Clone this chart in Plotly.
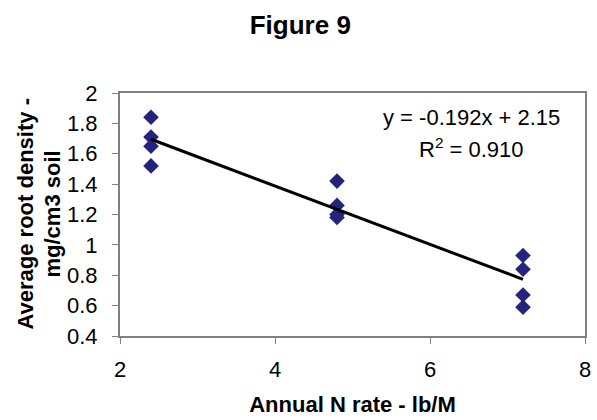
import numpy as np
import plotly.graph_objects as go

# Data
n_rate = [2.4, 2.4, 2.4, 2.4, 4.8, 4.8, 4.8, 4.8, 7.2, 7.2, 7.2, 7.2]
root_density = [1.84, 1.71, 1.65, 1.52, 1.42, 1.26, 1.20, 1.18, 0.93, 0.84, 0.67, 0.59]

x_ticks = [2, 4, 6, 8]
y_ticks = [0.4, 0.6, 0.8, 1.0, 1.2, 1.4, 1.6, 1.8, 2.0]
y_ticktext = ["0.4", "0.6", "0.8", "1", "1.2", "1.4", "1.6", "1.8", "2"]

eq_text = "y = -0.192x + 2.15"
r2_text = "R<sup>2</sup> = 0.910"
y_title_lines = ["Average root density -", "mg/cm3 soil"]

# Linear trendline fitted from the data
slope, intercept = np.polyfit(n_rate, root_density, 1)
fit_x = [min(n_rate), max(n_rate)]
fit_y = [slope * v + intercept for v in fit_x]

FONT = "Liberation Sans, Arial, sans-serif"
GRAY = "#808080"
FS = 22

fig = go.Figure()
fig.add_trace(go.Scatter(
    x=n_rate, y=root_density, mode="markers",
    marker=dict(symbol="diamond", size=12, color="#24247d"),
    showlegend=False,
))
fig.add_trace(go.Scatter(
    x=fit_x, y=fit_y, mode="lines",
    line=dict(color="black", width=3),
    showlegend=False,
))

fig.add_annotation(x=0.756, y=0.9, xref="paper", yref="paper", text=eq_text,
                   showarrow=False, font=dict(family=FONT, size=FS, color="black"),
                   xanchor="center", yanchor="middle")
fig.add_annotation(x=0.756, y=0.775, xref="paper", yref="paper", text=r2_text,
                   showarrow=False, font=dict(family=FONT, size=FS, color="black"),
                   xanchor="center", yanchor="middle")

# Two-line y-axis title with tight line spacing
for line, shift in zip(y_title_lines, [-95, -68]):
    fig.add_annotation(x=0, y=0.5, xref="paper", yref="paper",
                       text=f"<b>{line}</b>", textangle=-90, showarrow=False,
                       xshift=shift, xanchor="center", yanchor="middle",
                       font=dict(family=FONT, size=FS, color="black"))

fig.update_layout(
    width=597, height=420,
    margin=dict(l=120, r=6, t=93, b=84),
    paper_bgcolor="white", plot_bgcolor="white",
    font=dict(family=FONT, size=FS, color="black"),
    title=dict(text="<b>Figure 9</b>", x=0.503, xanchor="center",
               y=1 - 25 / 420, yref="container", yanchor="middle",
               font=dict(family=FONT, size=26, color="black")),
)
fig.update_xaxes(
    range=[2, 8], tickvals=x_ticks, showgrid=False, zeroline=False,
    showline=True, linecolor=GRAY, linewidth=2, mirror=True,
    ticks="outside", ticklen=6, tickcolor=GRAY, tickwidth=1,
    ticklabelstandoff=7,
    title=dict(text="<b>Annual N rate - lb/M</b>", standoff=15,
               font=dict(family=FONT, size=FS)),
)
fig.update_yaxes(
    range=[0.4, 2.0], tickvals=y_ticks, ticktext=y_ticktext,
    showgrid=False, zeroline=False,
    showline=True, linecolor=GRAY, linewidth=2, mirror=True,
    ticks="outside", ticklen=6, tickcolor=GRAY, tickwidth=1,
    ticklabelstandoff=10,
)

fig.write_html("out.html", config={"displayModeBar": False},
               post_script="document.body.style.margin='0px';")
